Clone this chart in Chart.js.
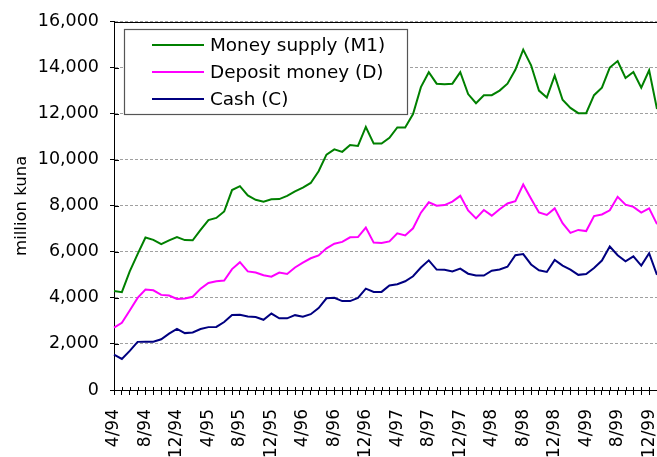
<!DOCTYPE html>
<html><head><meta charset="utf-8">
<script src="https://cdn.jsdelivr.net/npm/chart.js@4"></script>
<style>
html,body{margin:0;padding:0;background:#fff;overflow:hidden;}
#wrap{position:relative;width:657px;height:457px;}
</style></head><body>
<div id="wrap"><canvas id="c"></canvas></div>
<script>
const months = ['4/94','5/94','6/94','7/94','8/94','9/94','10/94','11/94','12/94',
 '1/95','2/95','3/95','4/95','5/95','6/95','7/95','8/95','9/95','10/95','11/95','12/95',
 '1/96','2/96','3/96','4/96','5/96','6/96','7/96','8/96','9/96','10/96','11/96','12/96',
 '1/97','2/97','3/97','4/97','5/97','6/97','7/97','8/97','9/97','10/97','11/97','12/97',
 '1/98','2/98','3/98','4/98','5/98','6/98','7/98','8/98','9/98','10/98','11/98','12/98',
 '1/99','2/99','3/99','4/99','5/99','6/99','7/99','8/99','9/99','10/99','11/99','12/99',
 '1/00'];
const tickLabels = ['4/94','8/94','12/94','4/95','8/95','12/95','4/96','8/96','12/96',
 '4/97','8/97','12/97','4/98','8/98','12/98','4/99','8/99','12/99'];
const moneySupply = [4300,4250,5150,5900,6620,6520,6330,6500,6640,6510,
 6500,6950,7380,7470,7750,8680,8850,8450,8260,8180,
 8280,8290,8430,8620,8790,8990,9500,10220,10450,10340,
 10640,10600,11420,10700,10700,10950,11400,11400,11980,13150,
 13800,13300,13280,13300,13800,12850,12450,12800,12800,13000,
 13300,13900,14780,14100,13000,12700,13650,12600,12250,12020,
 12020,12800,13130,14000,14285,13550,13810,13130,13880,12200];
const depositMoney = [2710,2920,3450,4000,4365,4330,4130,4100,3950,3970,
 4050,4400,4650,4720,4750,5250,5550,5150,5100,4980,
 4920,5100,5040,5320,5530,5720,5840,6150,6350,6430,
 6630,6640,7050,6400,6380,6450,6800,6710,7020,7700,
 8150,8000,8030,8180,8430,7800,7450,7815,7570,7850,
 8100,8200,8920,8300,7710,7600,7885,7240,6820,6950,
 6900,7550,7620,7800,8390,8050,7950,7700,7885,7200];
const cash = [1540,1350,1700,2090,2100,2100,2200,2450,2650,2470,
 2500,2650,2730,2740,2950,3260,3270,3190,3170,3050,
 3320,3110,3110,3250,3180,3290,3560,3980,4000,3860,
 3860,4000,4400,4260,4260,4540,4590,4720,4940,5320,
 5630,5230,5220,5150,5270,5050,4970,4970,5180,5230,
 5350,5850,5900,5450,5200,5125,5650,5400,5230,5000,
 5040,5300,5620,6230,5850,5585,5800,5400,5940,5000];
const seriesNames = ['Money supply (M1)','Deposit money (D)','Cash (C)'];
const seriesColors = ['#008000','#ff00ff','#000080'];
const yMin = 0, yMax = 16000, yStep = 2000;

Chart.defaults.font.family = "'DejaVu Sans', sans-serif";
Chart.defaults.color = '#000';

const framePlugin = {
  id: 'frame',
  afterDraw(chart) {
    const {ctx, chartArea: a, scales: {x, y}} = chart;
    ctx.save();
    ctx.strokeStyle = '#000';
    ctx.lineWidth = 1;
    ctx.setLineDash([]);
    ctx.beginPath();
    const ty = Math.round(a.top) + 0.5;
    ctx.moveTo(a.left, ty); ctx.lineTo(chart.width, ty);
    const by = Math.round(a.bottom);
    x.ticks.forEach((t, i) => {
      const px = Math.round(x.getPixelForTick(i)) + 0.5;
      ctx.moveTo(px, by); ctx.lineTo(px, by - 3);
    });
    const lx = Math.round(a.left);
    y.ticks.forEach((t, i) => {
      const py = Math.round(y.getPixelForTick(i)) + 0.5;
      ctx.moveTo(lx, py); ctx.lineTo(lx + 5, py);
    });
    ctx.stroke();
    // legend box
    const L = a.left + 10, T = a.top + 7.5, W = 283, H = 85;
    ctx.fillStyle = '#fff';
    ctx.fillRect(L, T, W, H);
    ctx.strokeStyle = '#555';
    ctx.lineWidth = 1.2;
    ctx.strokeRect(Math.round(L) + 0.5, Math.round(T) + 0.5, W, H);
    ctx.font = "18.4px 'DejaVu Sans', sans-serif";
    ctx.textBaseline = 'middle';
    ctx.textAlign = 'left';
    chart.data.datasets.forEach((ds, i) => {
      const ry = T + 16 + i * 27;
      ctx.strokeStyle = ds.borderColor;
      ctx.lineWidth = 2;
      ctx.beginPath(); ctx.moveTo(L + 28, ry); ctx.lineTo(L + 80, ry); ctx.stroke();
      ctx.fillStyle = '#000';
      ctx.fillText(ds.label, L + 86, ry + 1);
    });
    ctx.restore();
  }
};

new Chart(document.getElementById('c'), {
  type: 'line',
  data: {
    labels: months,
    datasets: [moneySupply, depositMoney, cash].map((d, i) => ({
      label: seriesNames[i],
      data: d,
      borderColor: seriesColors[i],
      backgroundColor: seriesColors[i],
      borderWidth: 2,
      pointRadius: 0,
      tension: 0,
      fill: false
    }))
  },
  options: {
    responsive: true,
    maintainAspectRatio: false,
    animation: false,
    events: [],
    layout: {padding: {top: 18, left: 0, right: 0, bottom: 0}},
    plugins: {legend: {display: false}, tooltip: {enabled: false}},
    scales: {
      x: {
        grid: {display: true, drawOnChartArea: false, color: '#000', tickLength: 5, lineWidth: 1},
        border: {display: true, color: '#000', width: 1},
        ticks: {
          autoSkip: false, maxRotation: 90, minRotation: 90, padding: 14,
          font: {size: 17},
          callback: (v, i) => tickLabels.includes(months[i]) ? months[i] : ''
        },
        afterFit: (s) => { s.height = 67; s.paddingLeft = 0; s.paddingRight = 0; }
      },
      y: {
        min: yMin, max: yMax,
        grid: {
          color: (c) => (c.tick && c.tick.value === yMin) ? 'rgba(0,0,0,0)' : '#a0a0a0',
          tickColor: '#000', tickLength: 4, lineWidth: 1
        },
        border: {display: true, color: '#000', width: 1, dash: [3, 2]},
        ticks: {
          stepSize: yStep, padding: 11, font: {size: 17.5},
          callback: (v) => Number(v).toLocaleString('en-US')
        },
        title: {display: true, text: 'million kuna', font: {size: 16.5}, padding: {top: 12, bottom: 0}},
        afterFit: (s) => { s.width = 114; }
      }
    }
  },
  plugins: [framePlugin]
});
</script>
</body></html>
